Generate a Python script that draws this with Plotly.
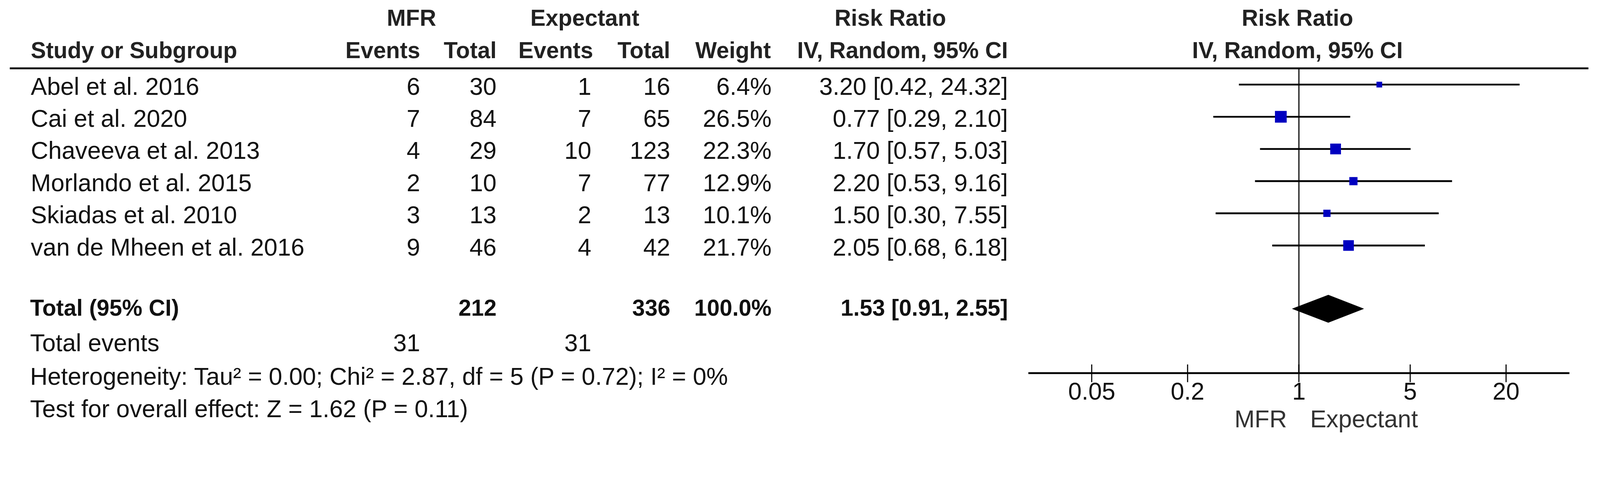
import math
import plotly.graph_objects as go

# ---------------- data ----------------
studies = ["Abel et al. 2016", "Cai et al. 2020", "Chaveeva et al. 2013",
           "Morlando et al. 2015", "Skiadas et al. 2010", "van de Mheen et al. 2016"]
mfr_events = [6, 7, 4, 2, 3, 9]
mfr_total = [30, 84, 29, 10, 13, 46]
exp_events = [1, 7, 10, 7, 2, 4]
exp_total = [16, 65, 123, 77, 13, 42]
weights = [6.4, 26.5, 22.3, 12.9, 10.1, 21.7]
rr = [3.20, 0.77, 1.70, 2.20, 1.50, 2.05]
rr_lo = [0.42, 0.29, 0.57, 0.53, 0.30, 0.68]
rr_hi = [24.32, 2.10, 5.03, 9.16, 7.55, 6.18]

total_mfr = 212
total_exp = 336
total_weight = 100.0
total_rr, total_lo, total_hi = 1.53, 0.91, 2.55
total_events_mfr = 31
total_events_exp = 31
heterogeneity = "Heterogeneity: Tau² = 0.00; Chi² = 2.87, df = 5 (P = 0.72); I² = 0%"
overall = "Test for overall effect: Z = 1.62 (P = 0.11)"

tick_vals = [0.05, 0.2, 1, 5, 20]
tick_labels = ["0.05", "0.2", "1", "5", "20"]
axis_min, axis_max = 0.02, 50

# ---------------- layout constants ----------------
# The page is photographed at 4421 device px over a ~4096 CSS px viewport.
DPR = 4421 / 4096
BODY_MARGIN = 8                      # default <body> margin (CSS px)
FIG_W, FIG_H = 4080, 1124            # CSS px
X0 = BODY_MARGIN * DPR               # reference-pixel coordinate of figure's left edge
Y0 = BODY_MARGIN * DPR
X1 = X0 + FIG_W * DPR
Y1 = Y0 + FIG_H * DPR


def px(v):
    """reference device pixels -> CSS px (for sizes)"""
    return v / DPR


FONT = "Liberation Sans, Arial, sans-serif"
FS = px(67)
FSB = px(63)
TXT = "#111111"
HDR = "#222222"
BLUE = "#0000C0"

x_one = 3589          # reference pixel of RR = 1
px_per_decade = 440

row0, row_step = 245, 89
rows_y = [row0 + row_step * i for i in range(len(studies))]
forest_y = [y - 11 for y in rows_y]
y_head1, y_head2 = 55, 145
y_rule = 189
y_total = 857
y_diamond = 854
y_tevents = 955
y_het = 1048
y_test = 1137
y_axis = 1032
y_ticklab = 1088
y_dirlab = 1165

fig = go.Figure()


def text_trace(xs, ys, texts, pos, bold=False, color=TXT, size=None):
    if size is None:
        size = FSB if bold else FS
    if bold:
        texts = [f"<b>{t}</b>" for t in texts]
    fig.add_trace(go.Scatter(
        x=xs, y=ys, text=texts, mode="text", textposition=pos,
        textfont=dict(family=FONT, size=size, color=color),
        hoverinfo="skip", showlegend=False, xaxis="x", yaxis="y"))


# headers
text_trace([1137, 1616, 2460, 3585], [y_head1] * 4,
           ["MFR", "Expectant", "Risk Ratio", "Risk Ratio"], "middle center", bold=True, color=HDR)
text_trace([85], [y_head2], ["Study or Subgroup"], "middle right", bold=True, color=HDR)
text_trace([1161, 1372, 1639, 1852, 2130, 2785], [y_head2] * 6,
           ["Events", "Total", "Events", "Total", "Weight", "IV, Random, 95% CI"],
           "middle left", bold=True, color=HDR)
text_trace([3585], [y_head2], ["IV, Random, 95% CI"], "middle center", bold=True, color=HDR)

# study rows
text_trace([85] * len(studies), rows_y, studies, "middle right")
text_trace([1161] * len(studies), rows_y, [str(v) for v in mfr_events], "middle left")
text_trace([1372] * len(studies), rows_y, [str(v) for v in mfr_total], "middle left")
text_trace([1634] * len(studies), rows_y, [str(v) for v in exp_events], "middle left")
text_trace([1852] * len(studies), rows_y, [str(v) for v in exp_total], "middle left")
text_trace([2132] * len(studies), rows_y, [f"{w:.1f}%" for w in weights], "middle left")
text_trace([2785] * len(studies), rows_y,
           [f"{a:.2f} [{b:.2f}, {c:.2f}]" for a, b, c in zip(rr, rr_lo, rr_hi)], "middle left")

# total rows
text_trace([83], [y_total], ["Total (95% CI)"], "middle right", bold=True)
text_trace([1372, 1852, 2132, 2785], [y_total] * 4,
           [str(total_mfr), str(total_exp), f"{total_weight:.1f}%",
            f"{total_rr:.2f} [{total_lo:.2f}, {total_hi:.2f}]"], "middle left", bold=True)
text_trace([83], [y_tevents], ["Total events"], "middle right")
text_trace([1161, 1634], [y_tevents] * 2, [str(total_events_mfr), str(total_events_exp)], "middle left")
text_trace([83], [y_het], [heterogeneity], "middle right")
text_trace([83], [y_test], [overall], "middle right")

# ---------------- forest plot (log axis x2) ----------------
fig.add_trace(go.Scatter(x=[1, 1], y=[y_rule, y_axis], mode="lines",
                         line=dict(color="#333333", width=px(4)),
                         hoverinfo="skip", showlegend=False, xaxis="x2", yaxis="y"))
ci_x, ci_y = [], []
for lo, hi, y in zip(rr_lo, rr_hi, forest_y):
    ci_x += [lo, hi, None]
    ci_y += [y, y, None]
fig.add_trace(go.Scatter(x=ci_x, y=ci_y, mode="lines",
                         line=dict(color="#000000", width=px(5)),
                         hoverinfo="skip", showlegend=False, xaxis="x2", yaxis="y"))
fig.add_trace(go.Scatter(x=rr, y=forest_y, mode="markers", opacity=1,
                         marker=dict(symbol="square", color=BLUE, opacity=1,
                                     size=[px(6.3 * math.sqrt(w)) for w in weights],
                                     line=dict(width=0)),
                         hoverinfo="skip", showlegend=False, xaxis="x2", yaxis="y"))
fig.add_trace(go.Scatter(x=[total_lo, total_rr, total_hi, total_rr, total_lo],
                         y=[y_diamond, y_diamond - 38, y_diamond, y_diamond + 38, y_diamond],
                         mode="lines", fill="toself", fillcolor="#000000",
                         line=dict(color="#000000", width=1),
                         hoverinfo="skip", showlegend=False, xaxis="x2", yaxis="y"))
fig.add_trace(go.Scatter(x=[axis_min, axis_max], y=[y_axis, y_axis], mode="lines",
                         line=dict(color="#000000", width=px(5)),
                         hoverinfo="skip", showlegend=False, xaxis="x2", yaxis="y"))
tx, ty = [], []
for t in tick_vals:
    tx += [t, t, None]
    ty += [y_axis - 24, y_axis + 25, None]
fig.add_trace(go.Scatter(x=tx, y=ty, mode="lines",
                         line=dict(color="#000000", width=px(3)),
                         hoverinfo="skip", showlegend=False, xaxis="x2", yaxis="y"))
fig.add_trace(go.Scatter(x=tick_vals, y=[y_ticklab] * len(tick_vals), text=tick_labels,
                         mode="text", textposition="middle center",
                         textfont=dict(family=FONT, size=FS, color=TXT),
                         hoverinfo="skip", showlegend=False, xaxis="x2", yaxis="y"))
text_trace([3556], [y_dirlab], ["MFR"], "middle left", color="#333")
text_trace([3620], [y_dirlab], ["Expectant"], "middle right", color="#333")

# header rule
fig.add_shape(type="line", xref="x", yref="y", x0=27, x1=4389, y0=y_rule, y1=y_rule,
              line=dict(color="#000000", width=px(5)))

fig.update_layout(
    width=FIG_W, height=FIG_H,
    margin=dict(l=0, r=0, t=0, b=0),
    paper_bgcolor="white", plot_bgcolor="white",
    showlegend=False,
    xaxis=dict(range=[X0, X1], visible=False, domain=[0, 1], fixedrange=True),
    xaxis2=dict(type="log", overlaying="x", anchor="y", visible=False,
                range=[(X0 - x_one) / px_per_decade, (X1 - x_one) / px_per_decade],
                fixedrange=True),
    yaxis=dict(range=[Y1, Y0], visible=False, fixedrange=True),
)

fig.write_html("out.html")
